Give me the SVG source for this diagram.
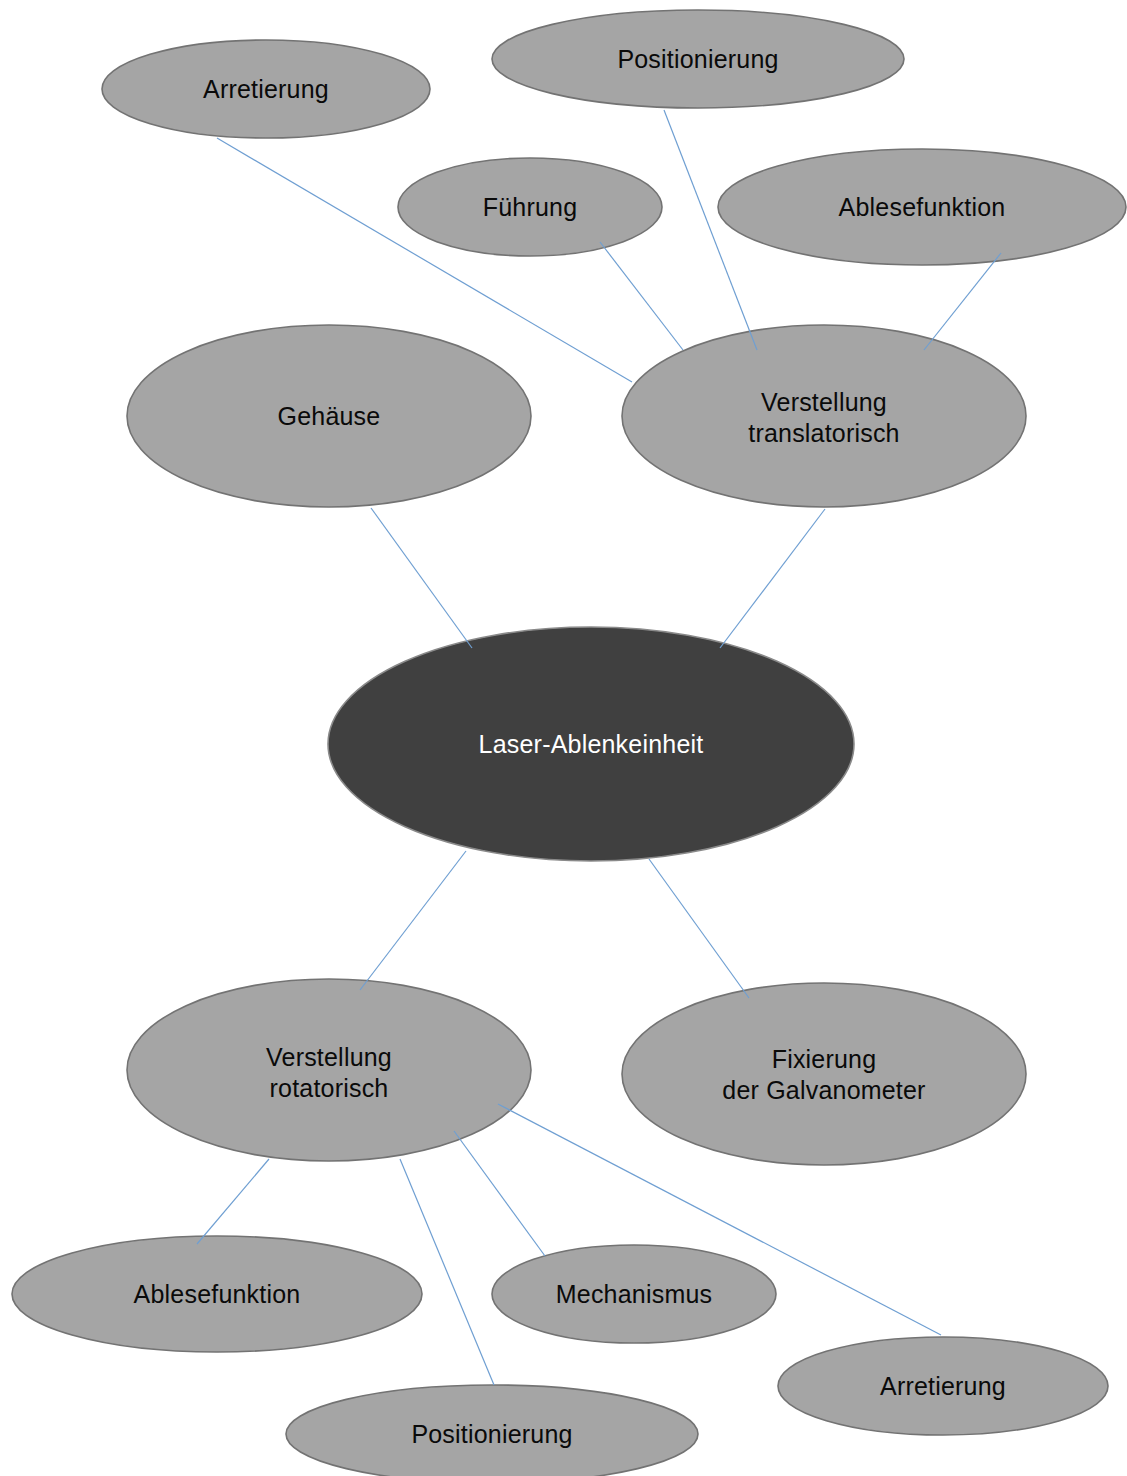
<svg xmlns="http://www.w3.org/2000/svg" width="1127" height="1476" viewBox="0 0 1127 1476">
  <style>
    .node { fill: #a5a5a5; stroke: #737373; stroke-width: 1.6; }
    .root { fill: #404040; stroke: #8a8a8a; stroke-width: 1.6; }
    .lbl { font-family: "Liberation Sans", Arial, sans-serif; font-size: 25px; letter-spacing: 0.2px; fill: #0a0a0a; text-anchor: middle; }
    .lbl-root { fill: #ffffff; }
    .edge { stroke: #6f9fd2; stroke-width: 1.2; fill: none; }
  </style>
  <rect width="1127" height="1476" fill="#ffffff"/>

  <g id="n-arretierung-top">
    <ellipse class="node" cx="266" cy="89" rx="164" ry="49"/>
    <text class="lbl" x="266" y="98">Arretierung</text>
  </g>
  <g id="n-positionierung-top">
    <ellipse class="node" cx="698" cy="59" rx="206" ry="49"/>
    <text class="lbl" x="698" y="68">Positionierung</text>
  </g>
  <g id="n-fuehrung">
    <ellipse class="node" cx="530" cy="207" rx="132" ry="49"/>
    <text class="lbl" x="530" y="216">Führung</text>
  </g>
  <g id="n-ablesefunktion-top">
    <ellipse class="node" cx="922" cy="207" rx="204" ry="58"/>
    <text class="lbl" x="922" y="216">Ablesefunktion</text>
  </g>
  <g id="n-gehaeuse">
    <ellipse class="node" cx="329" cy="416" rx="202" ry="91"/>
    <text class="lbl" x="329" y="425">Gehäuse</text>
  </g>
  <g id="n-verstellung-trans">
    <ellipse class="node" cx="824" cy="416" rx="202" ry="91"/>
    <text class="lbl" x="824" y="411">Verstellung</text>
    <text class="lbl" x="824" y="442">translatorisch</text>
  </g>
  <g id="n-laser">
    <ellipse class="root" cx="591" cy="744" rx="263" ry="117"/>
    <text class="lbl lbl-root" x="591" y="753">Laser-Ablenkeinheit</text>
  </g>
  <g id="n-verstellung-rot">
    <ellipse class="node" cx="329" cy="1070" rx="202" ry="91"/>
    <text class="lbl" x="329" y="1066">Verstellung</text>
    <text class="lbl" x="329" y="1097">rotatorisch</text>
  </g>
  <g id="n-fixierung">
    <ellipse class="node" cx="824" cy="1074" rx="202" ry="91"/>
    <text class="lbl" x="824" y="1068">Fixierung</text>
    <text class="lbl" x="824" y="1099">der Galvanometer</text>
  </g>
  <g id="n-ablesefunktion-bot">
    <ellipse class="node" cx="217" cy="1294" rx="205" ry="58"/>
    <text class="lbl" x="217" y="1303">Ablesefunktion</text>
  </g>
  <g id="n-mechanismus">
    <ellipse class="node" cx="634" cy="1294" rx="142" ry="49"/>
    <text class="lbl" x="634" y="1303">Mechanismus</text>
  </g>
  <g id="n-arretierung-bot">
    <ellipse class="node" cx="943" cy="1386" rx="165" ry="49"/>
    <text class="lbl" x="943" y="1395">Arretierung</text>
  </g>
  <g id="n-positionierung-bot">
    <ellipse class="node" cx="492" cy="1434" rx="206" ry="49"/>
    <text class="lbl" x="492" y="1443">Positionierung</text>
  </g>

  <g id="connectors">
    <line class="edge" x1="217" y1="138" x2="632" y2="382"/>
    <line class="edge" x1="664" y1="110" x2="757" y2="350"/>
    <line class="edge" x1="600" y1="242" x2="683" y2="350"/>
    <line class="edge" x1="1001" y1="253" x2="924" y2="350"/>
    <line class="edge" x1="371" y1="508" x2="472" y2="648"/>
    <line class="edge" x1="825" y1="509" x2="720" y2="648"/>
    <line class="edge" x1="466" y1="851" x2="360" y2="990"/>
    <line class="edge" x1="649" y1="859" x2="749" y2="998"/>
    <line class="edge" x1="269" y1="1159" x2="197" y2="1244"/>
    <line class="edge" x1="400" y1="1159" x2="494" y2="1385"/>
    <line class="edge" x1="454" y1="1131" x2="545" y2="1256"/>
    <line class="edge" x1="498" y1="1104" x2="941" y2="1335"/>
  </g>
</svg>
